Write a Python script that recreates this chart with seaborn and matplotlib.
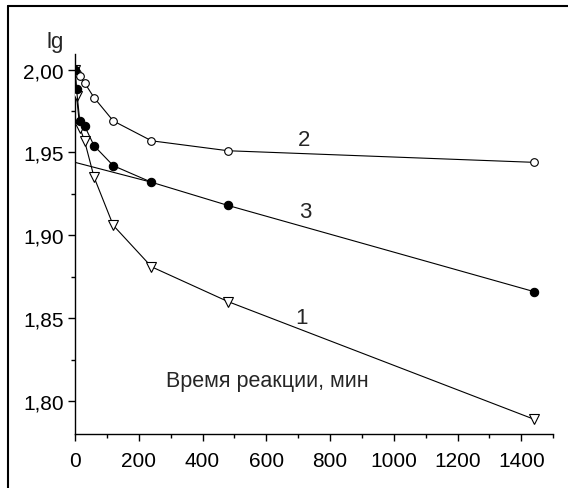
import matplotlib
matplotlib.use("Agg")
import matplotlib.pyplot as plt
import seaborn as sns
from matplotlib.ticker import MultipleLocator, FuncFormatter
from matplotlib.lines import Line2D

# reaction time, min
time_min = [0, 5, 15, 30, 60, 120, 240, 480, 1440]

# lg of remaining amount for each series
lg_series1 = [2.000, 1.984, 1.965, 1.957, 1.935, 1.906, 1.881, 1.860, 1.789]
lg_series2 = [2.000, 1.998, 1.996, 1.992, 1.983, 1.969, 1.957, 1.951, 1.944]
lg_series3 = [2.000, 1.988, 1.969, 1.966, 1.954, 1.942, 1.932, 1.918, 1.866]

# linear part of series 3 extrapolated back to t = 0
tangent_x = [0, 240]
tangent_y = [1.944, 1.932]

sns.set_style("ticks")
plt.rcParams['font.family'] = ['Liberation Sans', 'DejaVu Sans']

fig = plt.figure(figsize=(5.68, 4.89), dpi=100)
ax = fig.add_axes([0.132, 0.110, 0.842, 0.778])

line_kw = dict(color='black', linewidth=0.8, markeredgecolor='black',
               markeredgewidth=0.8)
sns.lineplot(x=time_min, y=lg_series1, ax=ax, marker='v', markersize=6.5,
             markerfacecolor='white', zorder=3, **line_kw)
sns.lineplot(x=time_min, y=lg_series2, ax=ax, marker='o', markersize=5.5,
             markerfacecolor='white', zorder=3, **line_kw)
sns.lineplot(x=time_min, y=lg_series3, ax=ax, marker='o', markersize=6,
             markerfacecolor='black', zorder=4, **line_kw)
sns.lineplot(x=tangent_x, y=tangent_y, ax=ax, color='black', linewidth=0.8,
             zorder=2)

ax.set_xlim(0, 1500)
ax.set_ylim(1.780, 2.0095)
ax.xaxis.set_major_locator(MultipleLocator(200))
ax.xaxis.set_minor_locator(MultipleLocator(100))
ax.yaxis.set_major_locator(MultipleLocator(0.05))
ax.yaxis.set_minor_locator(MultipleLocator(0.025))
ax.yaxis.set_major_formatter(FuncFormatter(lambda v, p: f"{v:.2f}".replace('.', ',')))

ax.tick_params(which='major', direction='out', length=5, width=1, labelsize=15,
               colors='black')
ax.tick_params(axis='x', which='major', pad=7)
ax.tick_params(axis='y', which='major', pad=3)
ax.tick_params(which='minor', direction='out', length=3, width=1, colors='black')
for side in ['top', 'right']:
    ax.spines[side].set_visible(False)
for side in ['left', 'bottom']:
    ax.spines[side].set_color('black')
    ax.spines[side].set_linewidth(1)
ax.set_xlabel('')
ax.set_ylabel('')

ax.text(-0.042, 1.032, 'lg', transform=ax.transAxes, fontsize=16, ha='center', va='center')
ax.text(720, 1.958, '2', fontsize=16, ha='center', va='center')
ax.text(722, 1.9146, '3', fontsize=16, ha='center', va='center')
ax.text(712, 1.8505, '1', fontsize=16, ha='center', va='center')
ax.text(603, 1.8124, 'Время реакции, мин', fontsize=15.5, ha='center', va='center')

# outer frame (only left and top edges are visible in the picture)
fig.add_artist(Line2D([7.5 / 568, 7.5 / 568], [0, 1 - 6.5 / 489], color='black', linewidth=1.5,
                      transform=fig.transFigure))
fig.add_artist(Line2D([7.5 / 568, 1], [1 - 6.5 / 489, 1 - 6.5 / 489], color='black', linewidth=1.5,
                      transform=fig.transFigure))

fig.savefig('out.png', dpi=100)
